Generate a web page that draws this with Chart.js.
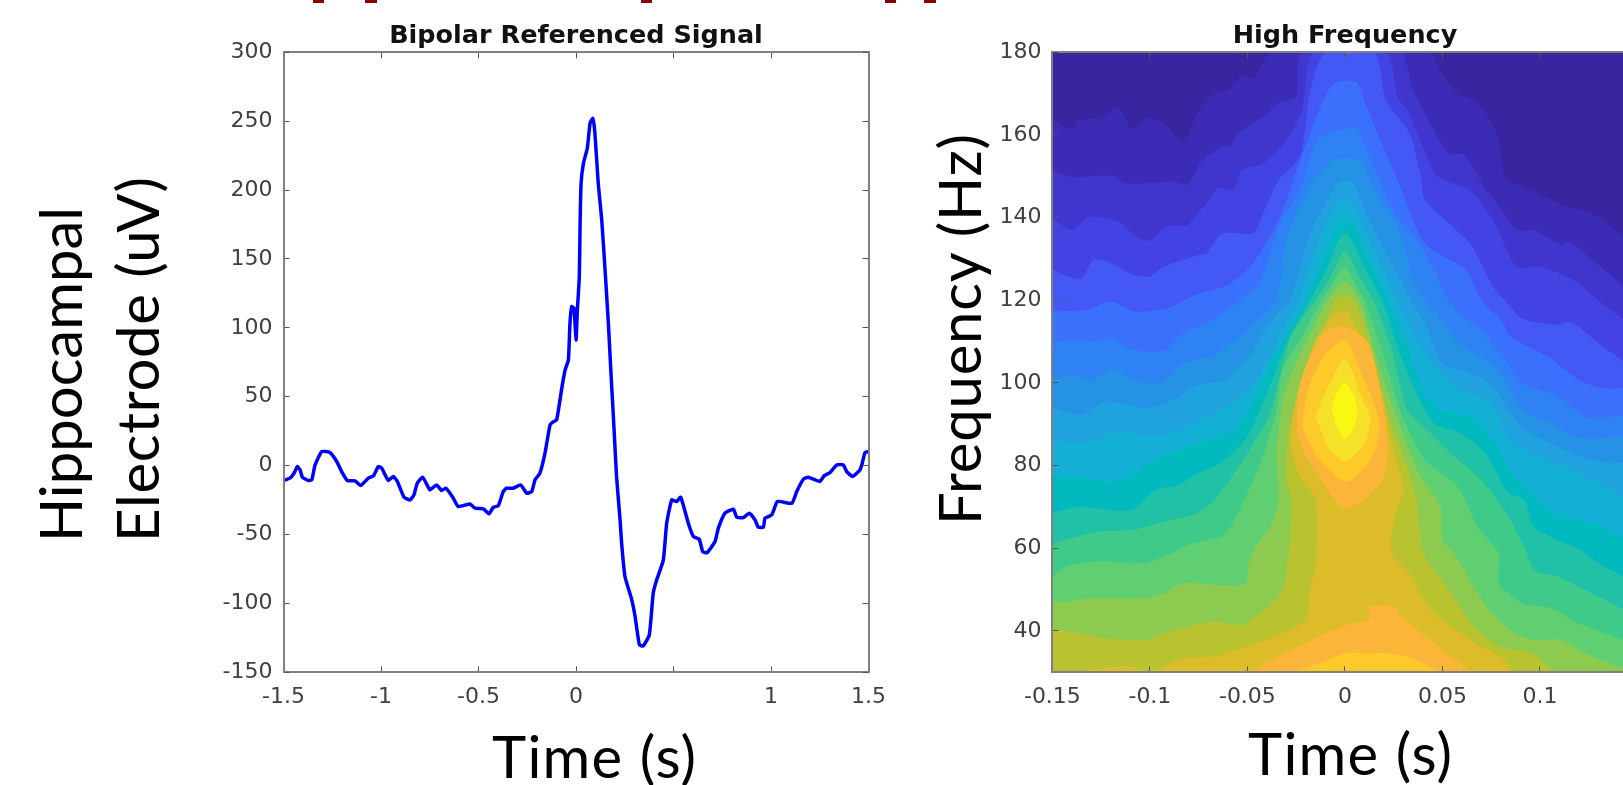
<!DOCTYPE html>
<html>
<head>
<meta charset="utf-8">
<title>Bipolar signal and high frequency power</title>
<script src="https://cdn.jsdelivr.net/npm/chart.js@4"></script>
<style>
    html, body { margin: 0; padding: 0; width: 1623px; height: 785px; overflow: hidden; background: #fff; }
    canvas { position: absolute; top: 0; filter: blur(0.7px); }
    #signalChart { left: 200px; }
    #spectrumChart { left: 969px; }
    .label { position: absolute; left: 0; top: 0; font-family: "Lato", sans-serif; font-size: 58px; line-height: 58px; color: #000; white-space: pre; transform-origin: 0 0; }
    .cut { position: absolute; top: 0; height: 3px; background: #8b0000; }
</style>
</head>
<body>
<div class="cut" style="left:313px;width:11px"></div>
<div class="cut" style="left:365px;width:12px"></div>
<div class="cut" style="left:641px;width:11px"></div>
<div class="cut" style="left:885px;width:11px"></div>
<div class="cut" style="left:924px;width:12px"></div>

<canvas id="signalChart" width="752" height="785"></canvas>
<canvas id="spectrumChart" width="752" height="785"></canvas>

<div class="label" style="transform:translate(31px,542px) rotate(-90deg)">Hippocampal</div>
<div class="label" style="transform:translate(108px,542px) rotate(-90deg);letter-spacing:.75px">Electrode (uV)</div>
<div class="label" style="transform:translate(930px,525px) rotate(-90deg);letter-spacing:.8px">Frequency (Hz)</div>
<div class="label" style="transform:translate(492px,727px);letter-spacing:1.3px">Time (s)</div>
<div class="label" style="transform:translate(1248px,724px);letter-spacing:1.3px">Time (s)</div>

<script>
// left panel
const signalTime = [-1.5, -1.467, -1.446, -1.429, -1.415, -1.403, -1.373, -1.355, -1.338, -1.304, -1.262, -1.227, -1.202, -1.173, -1.133, -1.104, -1.065, -1.039, -1.014, -0.996, -0.979, -0.962, -0.937, -0.916, -0.882, -0.851, -0.831, -0.814, -0.786, -0.749, -0.715, -0.689, -0.667, -0.632, -0.604, -0.544, -0.518, -0.475, -0.446, -0.424, -0.399, -0.373, -0.356, -0.322, -0.284, -0.253, -0.227, -0.21, -0.185, -0.159, -0.133, -0.115, -0.099, -0.073, -0.056, -0.039, -0.031, -0.022, -0.01, 0, 0.007, 0.017, 0.021, 0.026, 0.038, 0.058, 0.072, 0.086, 0.097, 0.114, 0.132, 0.149, 0.166, 0.183, 0.187, 0.198, 0.208, 0.226, 0.234, 0.251, 0.286, 0.303, 0.325, 0.345, 0.376, 0.396, 0.414, 0.448, 0.465, 0.491, 0.516, 0.537, 0.576, 0.602, 0.632, 0.65, 0.673, 0.713, 0.73, 0.764, 0.807, 0.824, 0.858, 0.889, 0.918, 0.935, 0.961, 0.969, 1.004, 1.033, 1.107, 1.132, 1.166, 1.191, 1.251, 1.272, 1.303, 1.337, 1.371, 1.388, 1.419, 1.456, 1.468, 1.482, 1.499];
const signalValue = [-10.8, -9.1, -5.5, -0.7, -3.1, -8.4, -10.8, -10.3, 0.5, 10.2, 9.5, 3, -4.3, -10.8, -11.1, -14.5, -9.1, -7.4, -0.7, -1.9, -6.7, -10.8, -7.9, -11.5, -22.9, -24.9, -21.2, -12.8, -8.4, -17.6, -14, -18.1, -16.4, -22.9, -29.7, -27.8, -30.9, -31.4, -35, -30.2, -29.2, -18.8, -16.4, -16.4, -14, -20, -18.8, -10.3, -5.5, 9, 29.6, 31.9, 33.2, 56.1, 69.4, 76.7, 103.3, 115.4, 114.2, 91.2, 112.9, 137.1, 175.8, 204.9, 219.4, 230.3, 248.4, 252, 241.2, 204.9, 178.3, 142, 103.3, 57.3, 47.7, 18.7, -8, -39.4, -56.3, -80.5, -97.4, -109.5, -130.1, -130.8, -122.8, -92.6, -82.9, -68.4, -41.8, -24.9, -26.1, -22.9, -41.8, -51.5, -53.4, -62.4, -63.1, -55.1, -45.4, -34.5, -31.6, -37.4, -37.7, -34.5, -39.4, -44.7, -44.7, -38.2, -35.7, -26.1, -27.3, -18.8, -9.9, -8.4, -11.5, -7.4, -5, 0.5, 0.5, -4.3, -7.9, -3.1, 1.8, 9.5, 10.2];

// right panel: contour lines as [time, frequency] pairs, lowest power first
const contour1 = [[-0.15, 163.6], [-0.14, 161.2], [-0.136, 163.6], [-0.123, 164.3], [-0.118, 167], [-0.113, 164.8], [-0.109, 161.2], [-0.101, 164.4], [-0.091, 162], [-0.084, 158.4], [-0.08, 160.4], [-0.076, 165.2], [-0.067, 170.1], [-0.059, 170.9], [-0.053, 174.5], [-0.047, 173.7], [-0.037, 180], [0.043, 180], [0.049, 175.3], [0.058, 170], [0.065, 168.5], [0.071, 166], [0.078, 160.4], [0.08, 154.8], [0.083, 149.1], [0.092, 147.5], [0.102, 145.1], [0.113, 142.7], [0.127, 141], [0.143, 135.4], [0.15, 132]];
const contour2 = [[-0.15, 151.5], [-0.141, 149.9], [-0.119, 150.1], [-0.113, 148.3], [-0.087, 148.7], [-0.081, 147.9], [-0.073, 154], [-0.063, 157.2], [-0.059, 157.2], [-0.055, 160.4], [-0.042, 164.4], [-0.034, 167.7], [-0.025, 169.3], [-0.022, 180], [0.028, 180], [0.035, 170.9], [0.042, 164.4], [0.053, 155.6], [0.061, 155.2], [0.072, 147.1], [0.078, 143.5], [0.088, 137], [0.097, 137], [0.111, 133.4], [0.115, 134.2], [0.143, 123.3], [0.15, 120]];
const contour3 = [[-0.15, 139.8], [-0.14, 137], [-0.131, 140.2], [-0.116, 139], [-0.107, 135.4], [-0.101, 134.4], [-0.091, 137.8], [-0.081, 138.2], [-0.071, 143.5], [-0.065, 147.1], [-0.057, 146.7], [-0.053, 151.5], [-0.042, 153.1], [-0.03, 158.7], [-0.022, 166], [-0.016, 180], [0.021, 180], [0.027, 169.3], [0.033, 165.2], [0.046, 150.7], [0.053, 148.7], [0.064, 146.7], [0.076, 139.4], [0.088, 128.1], [0.1, 128.1], [0.117, 124.9], [0.13, 120], [0.143, 115.2], [0.15, 112]];
const contour4 = [[-0.15, 127.5], [-0.143, 125.9], [-0.135, 125.3], [-0.129, 129.8], [-0.122, 129.4], [-0.108, 126.1], [-0.1, 125.7], [-0.093, 128.1], [-0.075, 131], [-0.071, 131.4], [-0.063, 136.2], [-0.047, 136.2], [-0.042, 141], [-0.034, 149.1], [-0.023, 154.8], [-0.018, 170], [-0.01, 180], [0.015, 180], [0.021, 168.5], [0.033, 160.4], [0.039, 149.9], [0.041, 144.3], [0.064, 133.8], [0.076, 123.3], [0.082, 120], [0.091, 115.6], [0.109, 114], [0.116, 114.8], [0.13, 109.6], [0.143, 105.2], [0.15, 102]];
const contour5 = [[-0.15, 117.5], [-0.134, 117.5], [-0.12, 119.7], [-0.108, 117.3], [-0.091, 118.1], [-0.077, 121.3], [-0.06, 123.7], [-0.047, 129], [-0.034, 139.4], [-0.024, 152.3], [-0.014, 165.2], [-0.006, 172.3], [0.006, 172.9], [0.011, 166.9], [0.027, 149.1], [0.041, 133.8], [0.062, 127.3], [0.07, 120], [0.08, 115.2], [0.085, 111.2], [0.104, 106.4], [0.12, 100.7], [0.132, 98.7], [0.143, 98.7], [0.15, 98]];
const contour6 = [[-0.15, 109.2], [-0.143, 110.4], [-0.131, 110], [-0.12, 110.8], [-0.109, 108], [-0.091, 108], [-0.086, 111.2], [-0.078, 113.2], [-0.068, 115.2], [-0.054, 120], [-0.044, 124.1], [-0.034, 137.8], [-0.023, 146.7], [-0.014, 158.8], [-0.004, 161], [0.006, 161.6], [0.011, 156.4], [0.019, 147.5], [0.027, 140.2], [0.037, 134.6], [0.045, 128.1], [0.053, 120], [0.06, 116], [0.07, 112.8], [0.082, 105.6], [0.091, 99.9], [0.109, 96.7], [0.123, 91.8], [0.13, 91.4], [0.143, 92.2], [0.15, 92]];
const contour7 = [[-0.15, 101.1], [-0.141, 101.9], [-0.129, 100.7], [-0.12, 103.5], [-0.109, 101.1], [-0.097, 99.9], [-0.088, 102.3], [-0.083, 104.8], [-0.069, 106.4], [-0.054, 111.2], [-0.045, 115.2], [-0.035, 120], [-0.03, 134.6], [-0.018, 147.5], [-0.006, 153.9], [0.007, 153.9], [0.015, 146.7], [0.027, 137.8], [0.035, 125], [0.041, 120], [0.05, 115.2], [0.058, 109.6], [0.075, 104.8], [0.084, 99.1], [0.091, 93.5], [0.106, 90.2], [0.121, 86.6], [0.143, 87], [0.15, 87]];
const contour8 = [[-0.15, 94.3], [-0.136, 92.2], [-0.125, 95.1], [-0.114, 95.1], [-0.102, 93.9], [-0.088, 95.9], [-0.076, 99.5], [-0.062, 100.7], [-0.049, 106.4], [-0.042, 112], [-0.032, 118.5], [-0.028, 120], [-0.018, 136], [-0.007, 146], [-0.003, 148.5], [0.004, 148.5], [0.012, 140], [0.024, 129], [0.034, 120], [0.041, 114.4], [0.05, 104.7], [0.06, 103.1], [0.075, 99.9], [0.085, 92.6], [0.092, 88.6], [0.109, 84.6], [0.126, 81.4], [0.143, 80.6], [0.15, 80]];
const contour9 = [[-0.15, 86.2], [-0.136, 85.4], [-0.115, 88.2], [-0.1, 87], [-0.083, 89], [-0.069, 92.2], [-0.049, 98.3], [-0.04, 104.7], [-0.032, 112.8], [-0.024, 120], [-0.012, 136], [-0.003, 143.5], [0.003, 143.5], [0.012, 135], [0.027, 120], [0.036, 111.2], [0.046, 104], [0.06, 98.3], [0.075, 95.1], [0.085, 86.2], [0.103, 81.4], [0.116, 79], [0.143, 72.5], [0.15, 70]];
const contour10 = [[-0.15, 77.7], [-0.134, 77.3], [-0.12, 76.1], [-0.1, 80.6], [-0.083, 84.2], [-0.071, 86.2], [-0.056, 89], [-0.047, 95.9], [-0.039, 104], [-0.028, 112.8], [-0.02, 120], [-0.01, 131], [-0.003, 139.4], [0.003, 139.4], [0.012, 130], [0.022, 120], [0.031, 110.4], [0.041, 97.5], [0.05, 93.5], [0.065, 91.8], [0.074, 87.8], [0.08, 83], [0.085, 78.9], [0.097, 72.5], [0.109, 68.4], [0.123, 66.8], [0.143, 62.8], [0.15, 61]];
const contour11 = [[-0.15, 68.5], [-0.136, 70.1], [-0.122, 69.3], [-0.109, 69.3], [-0.097, 74.1], [-0.085, 75.3], [-0.076, 78.1], [-0.064, 80.6], [-0.05, 87], [-0.04, 97.5], [-0.03, 109.6], [-0.018, 120], [-0.009, 128], [-0.002, 135.6], [0.002, 135.6], [0.01, 128], [0.019, 120], [0.027, 108.8], [0.035, 99.1], [0.046, 90.2], [0.058, 88.2], [0.072, 83], [0.084, 73.3], [0.092, 71.7], [0.097, 65.2], [0.109, 62], [0.121, 59.6], [0.13, 56.4], [0.143, 53.1], [0.15, 51]];
const contour12 = [[-0.15, 61.2], [-0.127, 64], [-0.109, 64.4], [-0.093, 66.4], [-0.076, 68.4], [-0.066, 72.1], [-0.049, 83.8], [-0.039, 91.8], [-0.033, 102.3], [-0.027, 112], [-0.015, 120], [-0.007, 126], [0, 131.8], [0.007, 126], [0.0145, 120], [0.024, 108], [0.032, 93.5], [0.044, 87.8], [0.056, 82.2], [0.07, 76.5], [0.084, 67.6], [0.092, 60.4], [0.097, 54.7], [0.109, 53.2], [0.123, 49.9], [0.143, 45.1], [0.15, 43]];
const contour13 = [[-0.15, 53.1], [-0.143, 55.6], [-0.126, 56.8], [-0.103, 56.4], [-0.093, 58], [-0.078, 61.2], [-0.062, 63.2], [-0.054, 69.3], [-0.05, 73.3], [-0.042, 82.2], [-0.035, 93.5], [-0.032, 103.1], [-0.021, 112], [-0.012, 120], [-0.005, 125], [0, 128.1], [0.005, 124], [0.01, 120], [0.02, 106.4], [0.029, 92.6], [0.041, 81.4], [0.058, 74.9], [0.068, 65.2], [0.079, 58.8], [0.079, 51.5], [0.091, 46.7], [0.106, 45.5], [0.12, 41.8], [0.143, 37.8], [0.15, 36]];
const contour14 = [[-0.15, 46.7], [-0.129, 47.9], [-0.103, 47.9], [-0.093, 49.1], [-0.083, 51.5], [-0.064, 51.1], [-0.051, 51.5], [-0.049, 57.2], [-0.044, 61.6], [-0.038, 65.2], [-0.034, 71.7], [-0.035, 81.4], [-0.032, 95.9], [-0.026, 104], [-0.016, 113.6], [-0.009, 120], [0, 124.5], [0.0077, 120], [0.017, 104.8], [0.026, 92.6], [0.038, 78.1], [0.049, 70.1], [0.05, 62], [0.056, 58.8], [0.065, 51.5], [0.074, 45.1], [0.085, 40.2], [0.096, 37.8], [0.111, 37.8], [0.123, 34.6], [0.143, 31], [0.15, 30]];
const contour15 = [[-0.15, 40.6], [-0.122, 38.2], [-0.102, 37.8], [-0.093, 39.4], [-0.068, 42.3], [-0.054, 41.4], [-0.042, 44.7], [-0.032, 49.9], [-0.029, 58], [-0.027, 70.1], [-0.03, 77.3], [-0.029, 87.8], [-0.021, 101.5], [-0.013, 111.2], [-0.005, 120], [0, 121], [0.005, 120], [0.014, 108], [0.022, 92.6], [0.03, 82.2], [0.0365, 72.5], [0.0385, 63.6], [0.041, 58], [0.05, 52.3], [0.06, 45.1], [0.068, 40.2], [0.08, 36.2], [0.096, 34.6], [0.107, 30.2], [0.12, 28]];
const contour16 = [[-0.15, 29], [-0.129, 30.6], [-0.112, 31.5], [-0.1, 30.1], [-0.093, 31.4], [-0.083, 33.4], [-0.068, 33.8], [-0.056, 35.4], [-0.039, 38.2], [-0.02, 42.6], [-0.018, 49.9], [-0.015, 55.6], [-0.015, 71.7], [-0.024, 78.1], [-0.028, 87.8], [-0.023, 99.9], [-0.015, 110.4], [-0.008, 115.2], [0, 117.7], [0.005, 114], [0.01, 109.6], [0.019, 97.5], [0.023, 87.8], [0.03, 74.1], [0.026, 68.5], [0.024, 58.8], [0.035, 53.1], [0.038, 49.1], [0.048, 43.5], [0.067, 37], [0.082, 33], [0.085, 30.2], [0.1, 27]];
const bumpOrange = [[-0.049, 30], [-0.028, 35.4], [0, 41.4], [0.012, 42.7], [0.013, 45.9], [0.026, 45.9], [0.028, 43.9], [0.048, 36.2], [0.065, 30.2]];
const bumpAmber = [[-0.028, 30], [-0.014, 32], [0, 34.6], [0.01, 34.6], [0.022, 34.6], [0.034, 33.4], [0.048, 30.2]];
const blobOrange = [[-0.025, 88], [-0.023, 99.9], [-0.016, 108], [-0.009, 112.8], [0, 113.7], [0.012, 109.6], [0.018, 98.3], [0.022, 85.4], [0.02, 77.3], [0.01, 71.7], [0, 69.7], [-0.004, 70.9], [-0.013, 77.3], [-0.02, 82.2]];
const blobAmber = [[-0.022, 89.4], [-0.019, 98.3], [-0.011, 106.4], [0, 110.4], [0.01, 100.7], [0.017, 91.8], [0.017, 86.2], [0.012, 80.6], [0, 76.1], [-0.0145, 82.2]];
const blobLemon = [[-0.015, 91.8], [-0.011, 96.7], [0, 105.7], [0.0085, 96.7], [0.013, 91.8], [0.01, 85.4], [0, 81], [-0.009, 84.6]];
const blobYellow = [[-0.0068, 93.5], [-0.004, 98], [0, 100], [0.004, 97.5], [0.0065, 93.5], [0.004, 88.5], [0, 86.6], [-0.004, 89]];

const contourColors = ["#3a25a0", "#3c2bb4", "#4036cd", "#4342e2", "#4358f5", "#3a70fc", "#2e82f4", "#2692e6", "#1fa2dd", "#14afd4", "#03b9c0", "#21c1a8", "#3fca8a", "#60cf72", "#8ccb50", "#b9c22f", "#dcbc28"];
const bandLines = [contour1, contour2, contour3, contour4, contour5, contour6, contour7, contour8, contour9, contour10, contour11, contour12, contour13, contour14, contour15, contour16];

const signalTicksX = [-1.5, -1, -0.5, 0, 0.5, 1, 1.5];
const signalTicksY = [-150, -100, -50, 0, 50, 100, 150, 200, 250, 300];
const spectrumTicksX = [-0.15, -0.1, -0.05, 0, 0.05, 0.1, 0.15];
const spectrumTicksY = [40, 60, 80, 100, 120, 140, 160, 180];

const tickFont = { family: "DejaVu Sans", size: 22 };
const tickColor = "#404040";
const frameColor = "#808080";

// x axis with its ticks pointing into the plot
function axisX(position, min, max, list, withLabels) {
    return {
        type: "linear", position, min, max,
        afterBuildTicks: (s) => { s.ticks = list.map((value) => ({ value })); },
        afterFit: (s) => { s.height = position === "bottom" ? 112.7 : 0; },
        border: { color: frameColor, width: 2, z: 1 },
        grid: { drawOnChartArea: false, tickLength: -6, tickColor: "#555", z: 1 },
        ticks: {
            display: withLabels, color: tickColor, font: tickFont, padding: 18, maxRotation: 0,
            autoSkip: false, callback: (v) => (v > 0.1 && v < 1 ? "" : String(v))
        }
    };
}

function axisY(position, min, max, list, withLabels, size) {
    return {
        type: "linear", position, min, max,
        afterBuildTicks: (s) => { s.ticks = list.map((value) => ({ value })); },
        afterFit: (s) => { s.width = size; },
        border: { color: frameColor, width: 2, z: 1 },
        grid: { drawOnChartArea: false, tickLength: -6, tickColor: "#555", z: 1 },
        ticks: { display: withLabels, color: tickColor, font: tickFont, padding: 17, autoSkip: false, callback: (v) => String(v) }
    };
}

function panelOptions(title, scales) {
    return {
        responsive: false,
        animation: false,
        devicePixelRatio: 1,
        plugins: {
            legend: { display: false },
            tooltip: { enabled: false },
            title: {
                display: true, text: title, color: "#111",
                font: { family: "DejaVu Sans", size: 25.5, weight: "bold", lineHeight: 1.2 },
                padding: { top: 20.7, bottom: 1 }
            }
        },
        scales
    };
}

new Chart(document.getElementById("signalChart"), {
    type: "scatter",
    data: {
        datasets: [{
            data: signalTime.map((t, i) => ({ x: t, y: signalValue[i] })),
            showLine: true, borderColor: "#0000ff", borderWidth: 3.5, pointRadius: 0,
            borderJoinStyle: "round", tension: 0.15
        }]
    },
    options: panelOptions("Bipolar Referenced Signal", {
        x: axisX("bottom", -1.5, 1.5, signalTicksX, true),
        xTop: axisX("top", -1.5, 1.5, signalTicksX, false),
        y: axisY("left", -150, 300, signalTicksY, true, 83.5),
        yRight: axisY("right", -150, 300, signalTicksY, false, 83.5)
    })
});

// Filled contours: each region is painted over the one before it
const regions = [
    { points: [[-0.15, 180], [0.15, 180], [0.15, 30], [-0.15, 30]], color: contourColors[0] }
];
bandLines.forEach((line, i) => {
    regions.push({ points: line.concat([[0.15, 30], [-0.15, 30]]), color: contourColors[i + 1] });
});
regions.push({ points: bumpOrange, color: "#fbb63a" });
regions.push({ points: bumpAmber, color: "#fdca2a" });
regions.push({ points: blobOrange, color: "#fbb63a" });
regions.push({ points: blobAmber, color: "#fdca2a" });
regions.push({ points: blobLemon, color: "#f4e128" });
regions.push({ points: blobYellow, color: "#f8f812" });

new Chart(document.getElementById("spectrumChart"), {
    type: "scatter",
    data: {
        datasets: regions.map((region, i) => ({
            data: region.points.map(([x, y]) => ({ x, y })),
            showLine: true, fill: "shape", backgroundColor: region.color,
            borderWidth: 0, pointRadius: 0, tension: 0.25, order: regions.length - i
        }))
    },
    options: panelOptions("High Frequency", {
        x: axisX("bottom", -0.15, 0.15, spectrumTicksX, true),
        xTop: axisX("top", -0.15, 0.15, spectrumTicksX, false),
        y: axisY("left", 30, 180, spectrumTicksY, true, 83.4),
        yRight: axisY("right", 30, 180, spectrumTicksY, false, 83.6)
    })
});
</script>
</body>
</html>
